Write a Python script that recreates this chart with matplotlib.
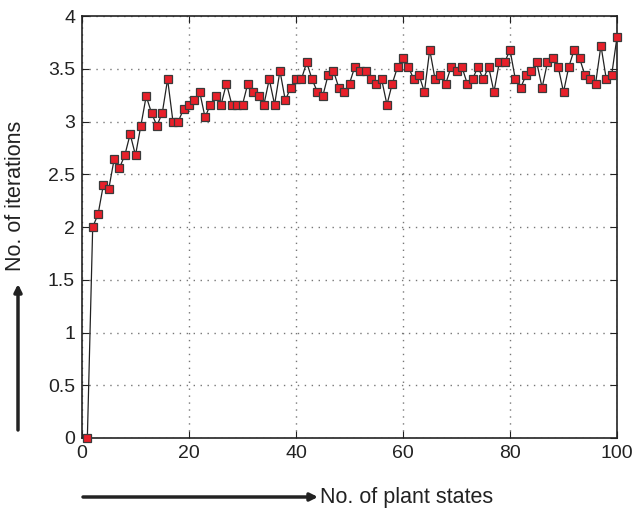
import matplotlib
matplotlib.use("Agg")
import matplotlib.pyplot as plt

# datos
estados = list(range(1, 101))
iteraciones = [
    0.00, 2.00, 2.12, 2.40, 2.36, 2.64, 2.56, 2.68, 2.88, 2.68,
    2.96, 3.24, 3.08, 2.96, 3.08, 3.40, 3.00, 3.00, 3.12, 3.16,
    3.20, 3.28, 3.04, 3.16, 3.24, 3.16, 3.36, 3.16, 3.16, 3.16,
    3.36, 3.28, 3.24, 3.16, 3.40, 3.16, 3.48, 3.20, 3.32, 3.40,
    3.40, 3.56, 3.40, 3.28, 3.24, 3.44, 3.48, 3.32, 3.28, 3.36,
    3.52, 3.48, 3.48, 3.40, 3.36, 3.40, 3.16, 3.36, 3.52, 3.60,
    3.52, 3.40, 3.44, 3.28, 3.68, 3.40, 3.44, 3.36, 3.52, 3.48,
    3.52, 3.36, 3.40, 3.52, 3.40, 3.52, 3.28, 3.56, 3.56, 3.68,
    3.40, 3.32, 3.44, 3.48, 3.56, 3.32, 3.56, 3.60, 3.52, 3.28,
    3.52, 3.68, 3.60, 3.44, 3.40, 3.36, 3.72, 3.40, 3.44, 3.80,
]
xticks = [0, 20, 40, 60, 80, 100]
yticks = [0, 0.5, 1, 1.5, 2, 2.5, 3, 3.5, 4]
yticklabels = ['0', '0.5', '1', '1.5', '2', '2.5', '3', '3.5', '4']

plt.rcParams['font.family'] = ['Liberation Sans', 'DejaVu Sans']
plt.rcParams['font.size'] = 14

fig = plt.figure(figsize=(6.35, 5.11), dpi=100)
ax = fig.add_axes([82/635, 1 - 438/511, 535/635, 422/511])

ax.plot(estados, iteraciones, color='#222222', linewidth=0.9,
        marker='s', markersize=5.5, markerfacecolor='#e8202a',
        markeredgecolor='#3a3a3a', markeredgewidth=0.9, clip_on=False, zorder=3)

ax.set_xlim(0, 100)
ax.set_ylim(0, 4)
ax.set_xticks(xticks)
ax.set_yticks(yticks)
ax.set_yticklabels(yticklabels)
ax.tick_params(direction='in', length=5, width=0.8, top=True, right=True,
               colors='#222222', labelcolor='#222222', pad=5)
ax.grid(True, linestyle=(0, (1, 4)), color='#777777', linewidth=1.0)
for s in ax.spines.values():
    s.set_linewidth(1.2)
    s.set_color('#222222')

# etiquetas con flechas
fig.text(320/635, 1 - 497/511, 'No. of plant states', ha='left', va='center',
         color='#222222', fontsize=15.5)
ax.annotate('', xy=(318/635, 1 - 497/511), xytext=(83/635, 1 - 497/511),
            xycoords='figure fraction', textcoords='figure fraction',
            arrowprops=dict(arrowstyle='-|>', color='#222222', lw=2.5,
                            mutation_scale=11, shrinkA=0, shrinkB=0))
fig.text(16/635, 1 - 196/511, 'No. of iterations', ha='center', va='center',
         rotation=90, color='#222222', fontsize=15.5)
ax.annotate('', xy=(18/635, 1 - 284/511), xytext=(18/635, 1 - 430/511),
            xycoords='figure fraction', textcoords='figure fraction',
            arrowprops=dict(arrowstyle='-|>', color='#222222', lw=2.5,
                            mutation_scale=11, shrinkA=0, shrinkB=0))

fig.savefig("out.png", dpi=100)
